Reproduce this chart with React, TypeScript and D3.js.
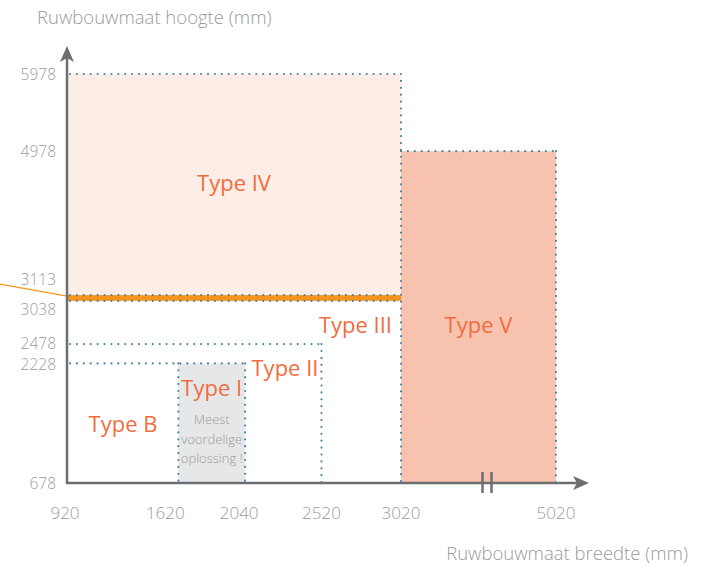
import React from "react";
import * as d3 from "d3";

// breakpoints on the width axis (mm) and the ticks on the height axis (mm)
const xTicks = [920, 1620, 2040, 2520, 3020, 5020];
const yTicks = [678, 2228, 2478, 3038, 3113, 4978, 5978];

// the types: width range, height range
const types = [
  { name: "Type IV", x0: 920, x1: 3020, y0: 3113, y1: 5978 },
  { name: "Type III", x0: 920, x1: 3020, y0: 678, y1: 3038 },
  { name: "Type II", x0: 920, x1: 2520, y0: 678, y1: 2478 },
  { name: "Type B", x0: 920, x1: 2040, y0: 678, y1: 2228 },
  { name: "Type I", x0: 1620, x1: 2040, y0: 678, y1: 2228 },
  { name: "Type V", x0: 3020, x1: 5020, y0: 678, y1: 4978 },
];
const band = { x0: 920, x1: 3020, y0: 3038, y1: 3113 };
const note = ["Meest", "voordelige", "oplossing !"];

const dotColor = "#4a86a2";
const grey = "#9b9b9b";
const axisGrey = "#6d6e71";
const orange = "#f26c3e";
const font = "'Open Sans', 'Noto Sans', sans-serif";

const App = () => {
  // width axis is broken between 3020 and 5020
  const x = d3.scaleLinear().domain([920, 3020, 5020]).range([67, 401, 556]);
  const y = d3.scaleLinear().domain([678, 5978]).range([483, 74]);
  const t = (n: string) => types.find((d) => d.name === n)!;

  const dotted = (x1: number, y1: number, x2: number, y2: number, key: string) => (
    <line key={key} x1={x1} y1={y1} x2={x2} y2={y2} stroke={dotColor}
      strokeWidth={2.2} strokeLinecap="round" strokeDasharray="0 6.9" />
  );

  const IV = t("Type IV"), III = t("Type III"), II = t("Type II"),
    B = t("Type B"), I = t("Type I"), V = t("Type V");

  // the labels are nudged apart in the original drawing
  const labelDy: Record<number, number> = { 3113: -16, 3038: 8, 2478: -1.5, 2228: 1 };
  const labelDx: Record<number, number> = { 920: -2, 1620: -13, 2040: -6 };

  return (
    <svg width={705} height={568} style={{ position: "absolute", left: 0, top: 0 }}
      fontFamily={font}>
      {/* fills */}
      <rect x={x(IV.x0)} y={y(IV.y1)} width={x(IV.x1) - x(IV.x0)} height={y(IV.y0) - y(IV.y1)} fill="#fcede7" />
      <rect x={x(V.x0)} y={y(V.y1)} width={x(V.x1) - x(V.x0)} height={y(V.y0) - y(V.y1)} fill="#f8c3ae" />
      <rect x={x(I.x0)} y={y(I.y1)} width={x(I.x1) - x(I.x0)} height={y(I.y0) - y(I.y1)} fill="#e6e7e8" />
      <rect x={x(band.x0)} y={y(band.y1)} width={x(band.x1) - x(band.x0)} height={y(band.y0) - y(band.y1)} fill="#f7941d" />

      {/* dotted outlines */}
      {dotted(x(IV.x0) + 3, y(IV.y1), x(IV.x1), y(IV.y1), "iv-top")}
      {dotted(x(IV.x1), y(IV.y1), x(IV.x1), y(III.y0), "iv-right")}
      {dotted(x(IV.x0) + 3, y(IV.y0), x(IV.x1), y(IV.y0), "band-top")}
      {dotted(x(III.x0) + 3, y(III.y1), x(III.x1), y(III.y1), "iii-top")}
      {dotted(x(II.x0) + 3, y(II.y1), x(II.x1), y(II.y1), "ii-top")}
      {dotted(x(II.x1), y(II.y1), x(II.x1), y(II.y0), "ii-right")}
      {dotted(x(B.x0) + 3, y(B.y1), x(B.x1), y(B.y1), "b-top")}
      {dotted(x(I.x0), y(I.y1), x(I.x0), y(I.y0), "i-left")}
      {dotted(x(I.x1), y(I.y1), x(I.x1), y(I.y0), "i-right")}
      {dotted(x(V.x0), y(V.y1), x(V.x1), y(V.y1), "v-top")}
      {dotted(x(V.x1), y(V.y1), x(V.x1), y(V.y0), "v-right")}

      {/* leader line for the orange band */}
      <line x1={0} y1={y(band.y1) - 11} x2={x(920)} y2={y(band.y1) + 1} stroke="#f7941d" strokeWidth={1.3} />

      {/* axes */}
      <line x1={x(920)} y1={y(678)} x2={578} y2={y(678)} stroke={axisGrey} strokeWidth={2.5} />
      <path d={`M${589},${y(678)} L${573},${y(678) - 7} L${577},${y(678)} L${573},${y(678) + 7} Z`} fill={axisGrey} />
      <line x1={x(920)} y1={y(678) + 1} x2={x(920)} y2={58} stroke={axisGrey} strokeWidth={2.5} />
      <path d={`M${x(920)},${46} L${x(920) - 7},${62} L${x(920)},${58} L${x(920) + 7},${62} Z`} fill={axisGrey} />
      {/* axis break */}
      <line x1={482.5} y1={472} x2={482.5} y2={493} stroke={axisGrey} strokeWidth={2.5} />
      <line x1={491.5} y1={472} x2={491.5} y2={493} stroke={axisGrey} strokeWidth={2.5} />

      {/* ticks */}
      {xTicks.map((v) => (
        <text key={v} x={x(v) + (labelDx[v] || 0)} y={519} textAnchor="middle" fontSize={17} fill={grey} fontWeight={300}>{v}</text>
      ))}
      {yTicks.map((v) => (
        <text key={v} x={56} y={y(v) + 6 + (labelDy[v] || 0)} textAnchor="end" fontSize={15.5} fill={grey} fontWeight={300}>{v}</text>
      ))}

      {/* axis titles */}
      <text x={37} y={24} fontSize={18.5} fill={grey} fontWeight={300}>Ruwbouwmaat hoogte (mm)</text>
      <text x={688} y={560} textAnchor="end" fontSize={18.5} fill={grey} fontWeight={300}>Ruwbouwmaat breedte (mm)</text>

      {/* type labels */}
      <g fill={orange} fontSize={22}>
        <text x={(x(IV.x0) + x(IV.x1)) / 2} y={191} textAnchor="middle">{IV.name}</text>
        <text x={x(III.x1) - 9} y={333} textAnchor="end">{III.name}</text>
        <text x={x(II.x1) - 3} y={376} textAnchor="end">{II.name}</text>
        <text x={(x(I.x0) + x(I.x1)) / 2} y={396} textAnchor="middle">{I.name}</text>
        <text x={123} y={432} textAnchor="middle">{B.name}</text>
        <text x={(x(V.x0) + x(V.x1)) / 2} y={333} textAnchor="middle">{V.name}</text>
      </g>
      {note.map((line, i) => (
        <text key={line} x={(x(I.x0) + x(I.x1)) / 2} y={424 + i * 19.5} textAnchor="middle"
          fontSize={13} fill={grey} fontWeight={300}>{line}</text>
      ))}
    </svg>
  );
};

export default App;
